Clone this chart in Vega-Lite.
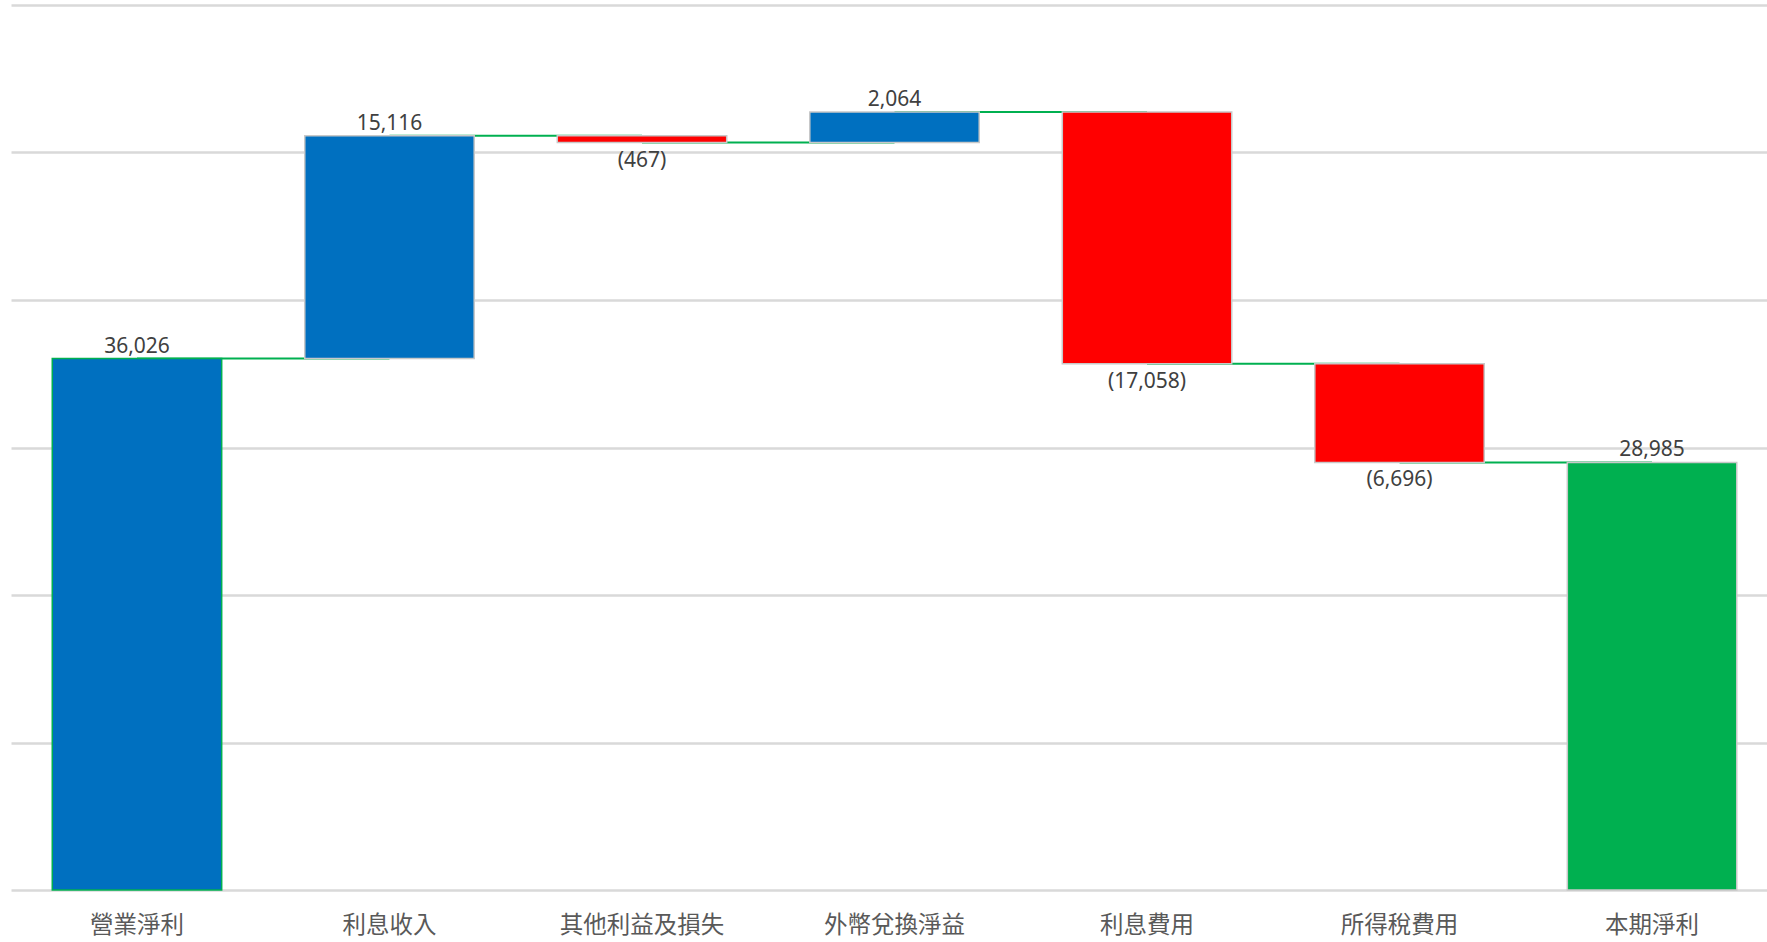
{
  "$schema": "https://vega.github.io/schema/vega-lite/v6.json",
  "width": 1756,
  "height": 885,
  "autosize": {"type": "none"},
  "padding": {"left": 11, "top": 5, "right": 0, "bottom": 52},
  "background": "white",
  "config": {
    "view": {"stroke": null},
    "font": "Noto Sans",
    "axis": {"gridColor": "#d9d9d9", "gridWidth": 2.5}
  },
  "data": {
    "values": [
      {"category": "營業淨利", "kind": "start", "amount": 36026, "start": 0, "end": 36026},
      {"category": "利息收入", "kind": "increase", "amount": 15116, "start": 36026, "end": 51142},
      {"category": "其他利益及損失", "kind": "decrease", "amount": -467, "start": 51142, "end": 50675},
      {"category": "外幣兌換淨益", "kind": "increase", "amount": 2064, "start": 50675, "end": 52739},
      {"category": "利息費用", "kind": "decrease", "amount": -17058, "start": 52739, "end": 35681},
      {"category": "所得稅費用", "kind": "decrease", "amount": -6696, "start": 35681, "end": 28985},
      {"category": "本期淨利", "kind": "total", "amount": 28985, "start": 0, "end": 28985}
    ]
  },
  "encoding": {
    "x": {
      "field": "category",
      "type": "nominal",
      "scale": {
        "domain": ["營業淨利", "利息收入", "其他利益及損失", "外幣兌換淨益", "利息費用", "所得稅費用", "本期淨利"],
        "paddingInner": 0.329,
        "paddingOuter": 0.1416,
        "align": 0.577
      },
      "axis": {
        "title": null,
        "labelAngle": 0,
        "domain": false,
        "ticks": false,
        "labelPadding": 23,
        "labelFont": "Noto Sans CJK TC",
        "labelFontSize": 23.5,
        "labelColor": "#595959"
      }
    }
  },
  "layer": [
    {
      "transform": [
        {"window": [{"op": "lead", "field": "category", "as": "next"}]},
        {"filter": "datum.next != null"}
      ],
      "mark": {"type": "rule", "color": "#00b050", "strokeWidth": 2},
      "encoding": {
        "x2": {"field": "next"},
        "y": {
          "field": "end",
          "type": "quantitative",
          "scale": {"domain": [0, 60000], "nice": false},
          "axis": {
            "title": null,
            "labels": false,
            "ticks": false,
            "domain": false,
            "grid": true,
            "values": [0, 10000, 20000, 30000, 40000, 50000, 60000]
          }
        }
      }
    },
    {
      "mark": {"type": "bar", "strokeWidth": 1.5},
      "encoding": {
        "y": {"field": "start", "type": "quantitative"},
        "y2": {"field": "end"},
        "fill": {
          "field": "kind",
          "type": "nominal",
          "scale": {
            "domain": ["start", "increase", "decrease", "total"],
            "range": ["#0070c0", "#0070c0", "#ff0000", "#00b050"]
          },
          "legend": null
        },
        "stroke": {
          "field": "kind",
          "type": "nominal",
          "scale": {
            "domain": ["start", "increase", "decrease", "total"],
            "range": ["#00b050", "#c8c8c8", "#c8c8c8", "#c8c8c8"]
          },
          "legend": null
        }
      }
    },
    {
      "transform": [{"filter": "datum.amount > 0"}],
      "mark": {"type": "text", "baseline": "alphabetic", "dy": -6, "fontSize": 21, "color": "#404040"},
      "encoding": {
        "y": {"field": "end", "type": "quantitative"},
        "text": {"field": "amount", "type": "quantitative", "format": "(,"}
      }
    },
    {
      "transform": [{"filter": "datum.amount < 0"}],
      "mark": {"type": "text", "baseline": "alphabetic", "dy": 24, "fontSize": 21, "color": "#404040"},
      "encoding": {
        "y": {"field": "end", "type": "quantitative"},
        "text": {"field": "amount", "type": "quantitative", "format": "(,"}
      }
    }
  ]
}
